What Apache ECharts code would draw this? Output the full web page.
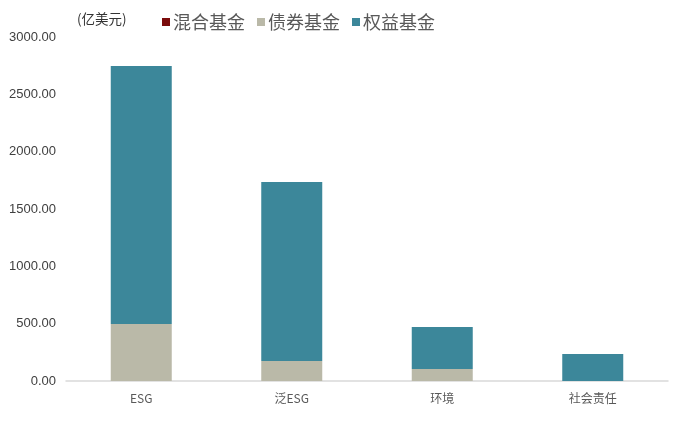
<!DOCTYPE html>
<html><head><meta charset="utf-8">
<script src="https://cdn.jsdelivr.net/npm/echarts@6/dist/echarts.min.js"></script>
<style>html,body{margin:0;padding:0;background:#fff}#c{width:685px;height:437px}</style>
</head><body><div id="c"></div>
<script>
const categories = ['ESG', '泛ESG', '环境', '社会责任'];
const mixedFund = [0, 0, 0, 0];
const bondFund = [497, 174, 105, 0];
const equityFund = [2250, 1561, 366, 235];
const yTicks = [0, 500, 1000, 1500, 2000, 2500, 3000];

const chart = echarts.init(document.getElementById('c'));
chart.setOption({
  animation: false,
  textStyle: {fontFamily: 'Arial, "Liberation Sans", "Noto Sans CJK SC"'},
  graphic: [{type: 'text', left: 77, top: 12, style: {text: '(亿美元)', fontSize: 13.5, fill: '#333', fontFamily: '"Noto Sans CJK SC"'}}],
  legend: {
    left: 157, top: 8, itemWidth: 8, itemHeight: 8, itemGap: 12, icon: 'rect',
    textStyle: {fontSize: 18, color: '#595959', fontFamily: '"Noto Sans CJK SC"', padding: [0, 0, 0, -2]},
    data: ['混合基金', '债券基金', '权益基金']
  },
  grid: {left: 66, right: 17, top: 37, bottom: 56, containLabel: false},
  xAxis: {
    type: 'category', data: categories,
    axisLine: {lineStyle: {color: '#d9d9d9', width: 1.5}},
    axisTick: {show: false},
    axisLabel: {fontSize: 12, color: '#595959', margin: 11, fontFamily: '"Noto Sans CJK SC"'}
  },
  yAxis: {
    type: 'value', min: yTicks[0], max: yTicks[yTicks.length - 1], interval: 500,
    axisLine: {show: false}, axisTick: {show: false}, splitLine: {show: false},
    axisLabel: {fontSize: 13, color: '#404040', margin: 10, formatter: v => v.toFixed(2)}
  },
  series: [
    {name: '混合基金', type: 'bar', stack: 's', data: mixedFund, barWidth: 61, itemStyle: {color: '#7B0C0C'}},
    {name: '债券基金', type: 'bar', stack: 's', data: bondFund, barWidth: 61, itemStyle: {color: '#BAB9A8'}},
    {name: '权益基金', type: 'bar', stack: 's', data: equityFund, barWidth: 61, itemStyle: {color: '#3C879A'}}
  ]
});
</script></body></html>
